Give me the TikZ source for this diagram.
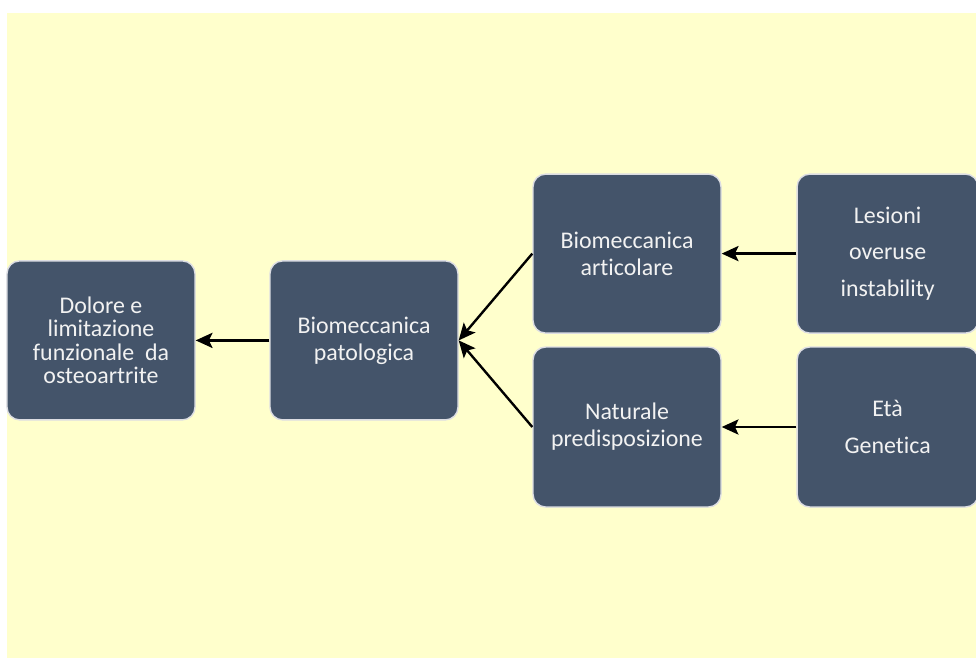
\documentclass[tikz,border=0pt]{standalone}
\usepackage{fontspec}
\setmainfont{Carlito}[Ligatures=NoCommon]
\usetikzlibrary{arrows.meta, positioning}

\definecolor{bgyellow}{HTML}{FFFFCC}
\definecolor{boxblue}{HTML}{44546A}
\definecolor{boxline}{HTML}{DCDDE3}

\begin{document}
\begin{tikzpicture}[
  font=\fontsize{17}{19.2}\selectfont,
  fase/.style={draw=boxline, line width=1pt, fill=boxblue,
               rounded corners=9pt, text=white!95!black,
               align=center, inner sep=0pt,
               minimum width=4.7cm, minimum height=3.975cm},
  fonte/.style={fase, minimum width=4.525cm,
               font=\fontsize{17}{26}\selectfont},
  arr/.style={-{Stealth[length=0.42cm, width=0.38cm, inset=0.09cm]},
              line width=1.7pt}
]

\useasboundingbox (0,0) rectangle (24.4,16.5);
\fill[bgyellow] (0.175,0.05) rectangle (24.4,16.175);

\node[fase, font=\fontsize{17}{16.6}\selectfont] (dol) at (2.525, 7.99)
  {Dolore e\\limitazione\\funzionale\ \ da\\osteoartrite};
\node[fase] (pat) at (9.1, 7.99)
  {Biomeccanica\\patologica};
\node[fase] (art) at (15.675, 10.16)
  {Biomeccanica\\articolare};
\node[fase, minimum height=4cm] (nat) at (15.675, 5.825)
  {Naturale\\predisposizione};

\node[fonte] (les) at (22.19, 10.16)
  {Lesioni\\overuse\\instability};
\node[fonte, minimum height=4cm] (eta) at (22.19, 5.825)
  {Età\\Genetica};

\draw[arr] (pat.west) -- (dol.east);
\draw[arr] (art.west) -- (pat.east);
\draw[arr] (nat.west) -- (pat.east);
\draw[arr] (les.west) -- (art.east);
\draw[arr] (eta.west) -- (nat.east);

\end{tikzpicture}
\end{document}
